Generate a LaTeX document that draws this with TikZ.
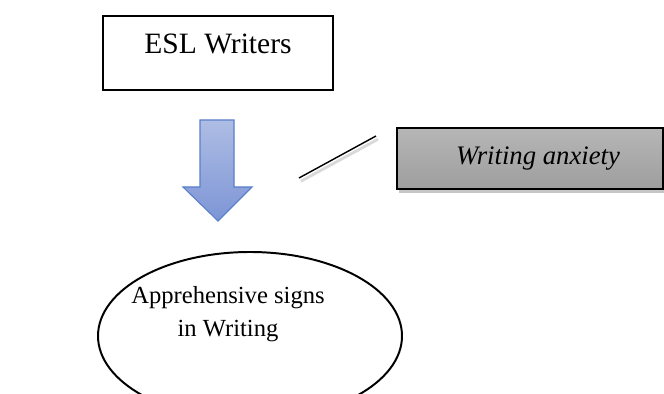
\documentclass[tikz,border=0pt]{standalone}
\usepackage{fontspec}
\setmainfont{Liberation Serif}
\usetikzlibrary{shapes.geometric,shadows}

\definecolor{arrowtop}{HTML}{AEBDE4}
\definecolor{arrowbot}{HTML}{7D95D6}
\definecolor{arrowline}{HTML}{5A7FCB}
\definecolor{boxtop}{HTML}{B6B6B6}
\definecolor{boxbot}{HTML}{9E9E9E}

\tikzset{
  writerbox/.style={draw, line width=1.3pt, minimum width=5.75cm, minimum height=1.85cm,
    text height=0.5cm, text depth=0.45cm},
  signsoval/.style={ellipse, draw, line width=1.4pt, minimum width=7.6cm,
    minimum height=4.2cm},
  anxietybox/.style={draw, line width=1.2pt, top color=boxtop, bottom color=boxbot,
    minimum width=6.65cm, minimum height=1.525cm,
    font=\fontsize{19}{21}\selectfont\itshape,
    drop shadow={shadow xshift=1.5pt, shadow yshift=-2.5pt, opacity=0.45}},
}

\begin{document}
\begin{tikzpicture}[font=\fontsize{21}{23}\selectfont]

  % Fix the page to the size of the reference
  \useasboundingbox (0,0) rectangle (16.6,9.85);

  % Box at the top
  \node[writerbox] (writers) at (5.45,8.525) {ESL Writers};

  % Block arrow pointing down
  \coordinate (shaftL) at (5.0,6.85);
  \coordinate (shaftR) at (5.85,6.85);
  \coordinate (tip) at (5.45,4.325);
  \shade[top color=arrowtop, bottom color=arrowbot, draw=arrowline, line width=0.8pt]
    (shaftL) -- (shaftR) -- (5.85,5.175) -- (6.3,5.175) -- (tip)
    -- (4.575,5.175) -- (5.0,5.175) -- cycle;

  % Grey box on the right
  \node[anxietybox] (anxiety) at (13.25,5.8875) {\hspace{0.4cm}Writing anxiety};

  % Short line between the arrow and the grey box
  \coordinate (lineA) at (7.475,5.4);
  \coordinate (lineB) at (9.4,6.45);
  \draw[black!15, line width=2pt] ([shift={(0.05,-0.08)}]lineA) -- ([shift={(0.05,-0.08)}]lineB);
  \draw[line width=1pt] (lineA) -- (lineB);

  % Oval at the bottom, cut by the lower edge
  \node[signsoval] (signs) at (6.25,1.45) {};
  \node[align=center, font=\fontsize{17.5}{23}\selectfont] (signstext)
    at ([shift={(-0.55,0.55)}]signs.center) {Apprehensive signs\\in Writing};

\end{tikzpicture}
\end{document}
